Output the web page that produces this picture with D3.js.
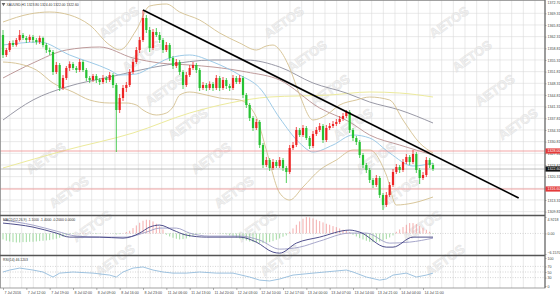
<!DOCTYPE html>
<html>
<head>
<meta charset="utf-8">
<script src="https://cdn.jsdelivr.net/npm/d3@7"></script>
<style>
body { margin: 0; background: #fff; }
svg { display: block; font-family: "Liberation Sans", Arial, sans-serif; }
</style>
</head>
<body>
<svg id="chart"></svg>
<script>
// XAUUSD H1 candles
var open = [1362.8,1356.8,1358.3,1360.4,1359.8,1361.3,1362.8,1361.9,1361.3,1362.2,
  1361.3,1360.7,1361.9,1359.8,1358.3,1357.7,1351.7,1353.8,1346.9,1349.9,
  1352.9,1354.1,1352.9,1352.3,1354.7,1352.3,1349.9,1349.3,1350.5,1349.3,
  1348.7,1349.9,1349.3,1350.8,1347.8,1340.3,1343.9,1346.9,1347.8,1351.7,
  1354.7,1358.3,1361.3,1367.9,1364.3,1358.9,1363.7,1362.8,1361.3,1358.3,
  1359.8,1355.9,1353.5,1354.7,1351.7,1347.8,1350.8,1352.9,1353.8,1352.3,
  1346.9,1347.8,1346.9,1348.1,1346.9,1349.9,1346.9,1349.3,1347.5,1346.9,
  1349.9,1348.7,1349.9,1344.8,1341.8,1337.9,1334.9,1336.7,1329.8,1323.8,
  1325.3,1322.9,1324.7,1323.5,1325.3,1322.9,1321.7,1328.9,1329.8,1334.3,
  1332.8,1334.9,1331.9,1329.5,1333.1,1334.3,1335.5,1331.3,1334.9,1335.5,
  1336.1,1336.7,1337.6,1338.5,1339.7,1334.3,1331.9,1330.7,1326.8,1323.8,
  1322.3,1319.3,1317.8,1319.9,1314.8,1311.8,1314.8,1317.8,1321.7,1323.2,
  1322.3,1324.7,1326.2,1324.7,1327.1,1322.3,1319.9,1320.8,1325.3,1323.8];
var high = [1364.3,1358.9,1361.0,1361.2,1361.9,1364.3,1363.4,1362.5,1362.9,1362.8,
  1361.9,1362.6,1362.3,1360.4,1359.0,1358.3,1354.7,1354.4,1350.8,1353.5,
  1354.9,1354.7,1353.5,1355.6,1355.3,1352.9,1350.5,1351.1,1351.1,1349.9,
  1350.8,1350.5,1351.7,1351.4,1348.4,1345.1,1347.8,1348.7,1352.6,1355.6,
  1359.2,1362.2,1370.3,1368.8,1365.2,1364.6,1364.9,1363.7,1361.9,1360.7,
  1360.4,1356.5,1355.6,1355.3,1352.3,1351.7,1353.8,1354.7,1354.4,1352.9,
  1348.7,1348.4,1348.9,1348.7,1350.8,1350.5,1350.2,1349.9,1348.1,1350.8,
  1350.5,1350.8,1350.5,1345.4,1342.4,1338.5,1337.6,1337.3,1330.4,1326.2,
  1325.9,1325.6,1325.3,1326.2,1325.9,1323.5,1329.8,1330.7,1335.2,1334.9,
  1335.8,1335.5,1332.5,1334.0,1335.2,1336.4,1336.1,1335.8,1336.4,1337.0,
  1337.6,1338.5,1339.4,1340.3,1340.3,1334.9,1332.5,1331.3,1327.4,1324.4,
  1322.9,1319.9,1320.8,1320.5,1315.4,1315.7,1318.7,1322.6,1324.1,1323.8,
  1325.6,1327.1,1326.8,1328.3,1327.7,1322.9,1321.7,1326.2,1325.9,1324.4];
var low = [1355.9,1356.2,1357.7,1359.2,1359.3,1360.8,1361.3,1360.4,1360.7,1360.5,
  1359.9,1360.1,1359.1,1357.4,1356.8,1350.8,1351.1,1346.0,1346.3,1349.3,
  1352.0,1352.3,1351.4,1351.7,1351.7,1349.0,1348.4,1348.7,1348.4,1347.8,
  1348.1,1348.4,1348.7,1346.9,1327.7,1339.4,1343.0,1345.7,1347.2,1351.1,
  1354.1,1357.4,1360.7,1363.4,1357.7,1358.3,1362.2,1360.4,1357.4,1357.7,
  1355.0,1352.6,1352.9,1350.8,1346.6,1347.2,1350.2,1352.3,1351.4,1346.0,
  1346.3,1346.0,1346.3,1346.0,1346.3,1346.0,1346.3,1346.6,1346.0,1346.3,
  1348.1,1348.1,1343.9,1340.9,1337.0,1334.0,1334.3,1328.9,1322.9,1323.2,
  1322.0,1322.3,1322.9,1322.9,1322.0,1318.4,1321.1,1328.3,1329.2,1332.2,
  1332.2,1331.3,1328.6,1328.9,1332.5,1333.7,1330.4,1330.7,1334.3,1334.9,
  1335.5,1336.1,1337.0,1337.9,1333.4,1331.0,1329.8,1325.9,1322.9,1321.4,
  1318.4,1316.9,1317.2,1313.9,1310.3,1311.2,1314.2,1317.2,1321.1,1321.4,
  1321.7,1324.1,1323.8,1324.1,1321.4,1318.1,1319.3,1320.2,1322.9,1322.0];
var close = [1356.8,1358.3,1360.4,1359.8,1361.3,1362.8,1361.9,1361.3,1362.2,1361.3,
  1360.7,1361.9,1359.8,1358.3,1357.7,1351.7,1353.8,1346.9,1349.9,1352.9,
  1354.1,1352.9,1352.3,1354.7,1352.3,1349.9,1349.3,1350.5,1349.3,1348.7,
  1349.9,1349.3,1350.8,1347.8,1340.3,1343.9,1346.9,1347.8,1351.7,1354.7,
  1358.3,1361.3,1367.9,1364.3,1358.9,1363.7,1362.8,1361.3,1358.3,1359.8,
  1355.9,1353.5,1354.7,1351.7,1347.8,1350.8,1352.9,1353.8,1352.3,1346.9,
  1347.8,1346.9,1348.1,1346.9,1349.9,1346.9,1349.3,1347.5,1346.9,1349.9,
  1348.7,1349.9,1344.8,1341.8,1337.9,1334.9,1336.7,1329.8,1323.8,1325.3,
  1322.9,1324.7,1323.5,1325.3,1322.9,1321.7,1328.9,1329.8,1334.3,1332.8,
  1334.9,1331.9,1329.5,1333.1,1334.3,1335.5,1331.3,1334.9,1335.5,1336.1,
  1336.7,1337.6,1338.5,1339.7,1334.3,1331.9,1330.7,1326.8,1323.8,1322.3,
  1319.3,1317.8,1319.9,1314.8,1311.8,1314.8,1317.8,1321.7,1323.2,1322.3,
  1324.7,1326.2,1324.7,1327.1,1322.3,1319.9,1320.8,1325.3,1323.8,1322.6];

// moving averages and bands, sampled at candle indices
var maFastIdx = [0,11,20,32,35,40,44,50,56,63,71,77,83,89,93,99,105,110,116,123,129];
var maFast = [1359.8,1360.7,1356.8,1352.3,1350.8,1351.1,1352.9,1355.9,1356.8,1354.7,1350.8,1346.9,1337.9,1330.4,1327.7,1329.8,1332.8,1331.9,1327.4,1323.5,1324.4];
var maMidIdx = [0,9,19,29,39,47,56,63,73,83,95,104,110,119,129];
var maMid = [1349.9,1354.4,1358.3,1359.2,1355.9,1354.4,1353.8,1353.2,1351.7,1349.3,1340.9,1336.7,1332.8,1329.8,1326.8];
var maSlowIdx = [0,9,19,32,49,63,73,83,93,103,110,119,129];
var maSlow = [1337.3,1343.3,1347.2,1350.2,1353.8,1355.3,1355.3,1353.2,1348.4,1345.4,1342.7,1340.3,1336.4];
var maLongIdx = [0,19,39,56,68,80,98,110,119,129];
var maLong = [1322.9,1328.3,1333.4,1339.4,1342.4,1344.2,1344.8,1345.7,1345.4,1344.2];
var bbUpIdx = [0,8,14,20,26,32,35,40,44,49,53,59,65,71,76,79,81,83,86,89,93,97,101,106,110,116,120,125,129];
var bbUp = [1366.7,1369.1,1369.7,1368.8,1365.8,1359.8,1358.3,1364.3,1371.5,1372.1,1369.7,1367.3,1363.4,1360.4,1358.3,1359.5,1359.8,1358.3,1352.9,1344.8,1337.3,1338.8,1341.8,1343.3,1344.2,1343.3,1337.3,1330.4,1327.4];
var bbLowIdx = [0,5,10,15,21,26,32,37,40,42,46,49,51,53,56,61,65,71,76,79,83,86,90,95,100,105,110,115,118,123,129];
var bbLow = [1354.7,1354.1,1352.3,1348.4,1345.7,1343.3,1342.4,1342.4,1341.8,1340.3,1338.8,1339.4,1341.2,1344.8,1345.7,1344.8,1343.9,1343.3,1338.2,1328.3,1315.4,1313.3,1317.2,1322.3,1325.3,1328.3,1328.3,1320.8,1311.8,1312.4,1314.2];

// drawn objects
var trendIdx = [42, 154.7];
var trendVal = [1370.3, 1313.9];
var levels = [1328.0, 1316.6];

// MACD
var macdIdx = [0,9,16,20,29,36,41,44,47,51,55,61,71,76,81,83,88,95,104,107,115,117,123,129];
var macdMain = [3.1,1.9,0.1,-1.1,-1.1,-1.4,0.1,1.9,2.5,1.0,-0.5,-1.1,-1.1,-2.6,-5.6,-5.9,-2.9,-1.1,1.0,0.4,-4.1,-4.1,-1.1,-1.1];
var signalIdx = [0,9,16,22,29,37,43,47,52,56,62,71,77,83,89,95,104,109,116,122,129];
var macdSignal = [4.0,2.5,0.7,-0.8,-1.1,-1.1,0.4,1.6,1.6,0.1,-0.8,-0.8,-2.0,-4.7,-4.1,-2.3,0.1,0.1,-2.9,-2.6,-1.4];
var macdHist = [-1.8,-2.2,-2.4,-2.6,-2.7,-2.7,-2.6,-2.6,-2.5,-2.5,-2.4,-2.3,-2.2,-2.1,-2.0,-1.8,-1.6,-1.3,-1.0,-0.6,
  -0.3,-0.2,0,0.1,0.2,0.1,0,-0.1,-0.2,-0.1,0,0.1,0,-0.1,-0.3,-0.2,0.1,0.4,
  0.8,1.6,2.4,3.2,3.8,4.1,4.0,3.6,2.9,2.1,1.2,
  -0.4,-0.9,-1.3,-1.6,-1.8,-1.7,-1.5,-1.1,-0.7,-0.4,
  -0.2,-0.1,0,0.1,0.1,0,-0.1,-0.2,-0.3,
  -0.6,-0.9,-1.2,-1.5,-1.8,-2.1,-2.4,-2.6,-2.8,-2.9,-2.9,-2.8,-2.6,-2.3,-1.9,-1.5,-1.0,-0.6,
  0.5,1.5,2.6,3.6,4.4,4.9,4.8,4.5,4.1,3.7,3.3,2.9,2.6,2.2,1.9,1.5,1.1,0.8,0.4,
  -0.4,-0.9,-1.4,-1.8,-2.2,-2.5,-2.6,-2.6,-2.4,-2.1,-1.7,-1.2,-0.6,
  0.5,1.2,1.9,2.6,3.1,3.1,2.8,2.3,1.7,1.1,0.5,
  -0.2];

// RSI
var rsiIdx = [0,2,5,9,12,15,17,21,27,32,34,36,39,42,45,48,51,55,59,64,69,74,77,80,83,87,93,103,105,109,113,115,117,121,124,127,129];
var rsi = [50,57,64,57,50,32,46,50,46,39,32,50,64,68,57,50,46,46,50,46,46,32,21,18,25,39,46,57,50,32,21,25,39,46,32,39,46];

// axes
var priceTicks = [1369.31,1365.81,1362.31,1358.81,1355.31,1351.81,1348.31,1344.81,1341.31,1337.81,1334.31,1330.81,1327.31,1323.81,1320.31,1316.81,1313.31,1309.81];
var macdTicks = [4.9218, 0, -6.157];
var rsiTicks = [100, 70, 50, 30, 0];
var timeIdx = [0,7,14,21,28,35,42,49,56,63,70,77,84,91,98,105,112,119,126];
var timeLabels = ["7 Jul 2016","7 Jul 12:00","7 Jul 19:00","8 Jul 02:00","8 Jul 09:00","8 Jul 16:00","8 Jul 23:00",
  "11 Jul 06:00","11 Jul 13:00","11 Jul 20:00","12 Jul 03:00","12 Jul 10:00","12 Jul 17:00","13 Jul 00:00",
  "13 Jul 07:00","13 Jul 14:00","13 Jul 21:00","14 Jul 04:00","14 Jul 11:00"];

var width = 560, height = 298, plotR = 545;
var mainTop = 0, mainBot = 215, macdTop = 216, macdBot = 255, rsiTop = 256, rsiBot = 288;

var svg = d3.select("#chart").attr("width", width).attr("height", height);

var x = d3.scaleLinear().domain([0, 129]).range([3, 433]);
var yMain = d3.scaleLinear().domain([1309.1, 1372.7]).range([214, 2]);
var yMacd = d3.scaleLinear().domain([-6.157, 4.9218]).range([254, 217]);
var yRsi = d3.scaleLinear().domain([0, 100]).range([286, 258]);

var fmt2 = d3.format(".2f");

// clip paths
var defs = svg.append("defs");
[["clipMain", mainTop, mainBot], ["clipMacd", macdTop, macdBot], ["clipRsi", rsiTop, rsiBot]].forEach(function(c) {
  defs.append("clipPath").attr("id", c[0]).append("rect")
    .attr("x", 0).attr("y", c[1]).attr("width", plotR).attr("height", c[2] - c[1]);
});

// grid
var grid = svg.append("g").attr("stroke", "#dcdcdc").attr("stroke-width", 0.6);
var vIdx = d3.range(2.1, x.invert(plotR), 3.5);
[[mainTop, mainBot], [macdTop, macdBot], [rsiTop, rsiBot]].forEach(function(p) {
  grid.selectAll(null).data(vIdx).join("line")
    .attr("x1", function(d) { return x(d); }).attr("x2", function(d) { return x(d); })
    .attr("y1", p[0]).attr("y2", p[1]);
});
grid.selectAll(null).data(priceTicks).join("line")
  .attr("x1", 0).attr("x2", plotR)
  .attr("y1", function(d) { return yMain(d); }).attr("y2", function(d) { return yMain(d); });
grid.selectAll(null).data([70, 50, 30]).join("line")
  .attr("x1", 0).attr("x2", plotR).attr("stroke", "#b8b8b8").attr("stroke-dasharray", "1,1.5")
  .attr("y1", function(d) { return yRsi(d); }).attr("y2", function(d) { return yRsi(d); });
grid.append("line").attr("x1", 0).attr("x2", plotR)
  .attr("y1", yMacd(0)).attr("y2", yMacd(0))
  .attr("stroke", "#b8b8b8").attr("stroke-dasharray", "1,1.5");

// watermark, kept fully inside the picture
var marks = [];
[-46, 119, 284, 449].forEach(function(cx) {
  d3.range(-2, 9).forEach(function(r) {
    marks.push([cx + 23 * r, 22 + 34 * r]);
  });
});
svg.append("g").selectAll("text")
  .data(marks.filter(function(m) { return m[0] > 24 && m[0] < 536 && m[1] > 19 && m[1] < 280; }))
  .join("text")
  .attr("transform", function(d) { return "translate(" + d[0] + "," + d[1] + ") rotate(-35)"; })
  .attr("text-anchor", "middle").attr("dy", "0.35em")
  .attr("font-size", 13).attr("font-weight", "bold")
  .attr("fill", "#ececec").attr("stroke", "#d6d6d6").attr("stroke-width", 0.4)
  .attr("opacity", 0.75)
  .text("AETOS");

// main panel series
var main = svg.append("g").attr("clip-path", "url(#clipMain)");

function drawLine(g, idx, vals, ys, color, w) {
  var line = d3.line()
    .x(function(d, i) { return x(idx[i]); })
    .y(function(d) { return ys(d); })
    .curve(d3.curveMonotoneX);
  g.append("path").datum(vals)
    .attr("fill", "none").attr("stroke", color).attr("stroke-width", w)
    .attr("d", line);
}

drawLine(main, maLongIdx, maLong, yMain, "#ecea9c", 1);
drawLine(main, maSlowIdx, maSlow, yMain, "#8d8d9c", 0.9);
drawLine(main, maMidIdx, maMid, yMain, "#b89090", 0.9);
drawLine(main, bbUpIdx, bbUp, yMain, "#d4c08e", 0.9);
drawLine(main, bbLowIdx, bbLow, yMain, "#d4c08e", 0.9);
drawLine(main, maFastIdx, maFast, yMain, "#92c4e4", 0.9);

// horizontal levels and bid line
main.selectAll(".lvl").data(levels).join("line").attr("class", "lvl")
  .attr("x1", 0).attr("x2", plotR)
  .attr("y1", function(d) { return yMain(d); }).attr("y2", function(d) { return yMain(d); })
  .attr("stroke", "#f09090").attr("stroke-width", 0.8);
main.append("line")
  .attr("x1", 0).attr("x2", plotR)
  .attr("y1", yMain(close[close.length - 1])).attr("y2", yMain(close[close.length - 1]))
  .attr("stroke", "#a0a0a0").attr("stroke-width", 0.7);

// candles
var idx = d3.range(close.length);
var upCol = "#ee2424", dnCol = "#26c232";
var candles = main.append("g");
candles.selectAll("line").data(idx).join("line")
  .attr("x1", function(i) { return x(i); }).attr("x2", function(i) { return x(i); })
  .attr("y1", function(i) { return yMain(high[i]); }).attr("y2", function(i) { return yMain(low[i]); })
  .attr("stroke", function(i) { return close[i] >= open[i] ? upCol : dnCol; })
  .attr("stroke-width", 0.8);
candles.selectAll("rect").data(idx).join("rect")
  .attr("x", function(i) { return x(i) - 1.1; })
  .attr("width", 2.2)
  .attr("y", function(i) { return yMain(Math.max(open[i], close[i])); })
  .attr("height", function(i) { return Math.max(0.8, Math.abs(yMain(open[i]) - yMain(close[i]))); })
  .attr("fill", function(i) { return close[i] >= open[i] ? upCol : dnCol; });

// trend line
main.append("line")
  .attr("x1", x(trendIdx[0])).attr("y1", yMain(trendVal[0]))
  .attr("x2", x(trendIdx[1])).attr("y2", yMain(trendVal[1]))
  .attr("stroke", "#000").attr("stroke-width", 1.7);

// MACD panel
var macd = svg.append("g").attr("clip-path", "url(#clipMacd)");
macd.selectAll("line").data(idx).join("line")
  .attr("x1", function(i) { return x(i); }).attr("x2", function(i) { return x(i); })
  .attr("y1", yMacd(0)).attr("y2", function(i) { return yMacd(macdHist[i]); })
  .attr("stroke", function(i) { return macdHist[i] >= 0 ? "#f08a8a" : "#7ccc7c"; })
  .attr("stroke-width", 0.7);
drawLine(macd, signalIdx, macdSignal, yMacd, "#9c9cc4", 0.9);
drawLine(macd, macdIdx, macdMain, yMacd, "#3c3c80", 0.9);

// RSI panel
var rsiG = svg.append("g").attr("clip-path", "url(#clipRsi)");
rsiG.append("path").datum(rsi)
  .attr("fill", "none").attr("stroke", "#86b4d8").attr("stroke-width", 0.8)
  .attr("d", d3.line().x(function(d, i) { return x(rsiIdx[i]); }).y(function(d) { return yRsi(d); }));

// frames
var frame = svg.append("g").attr("fill", "none");
frame.append("rect").attr("x", 0.5).attr("y", 0.5).attr("width", plotR - 0.5).attr("height", rsiBot - 0.5)
  .attr("stroke", "#8a8a8a").attr("stroke-width", 0.8);
frame.selectAll(".sep").data([mainBot + 0.5, macdBot + 0.5]).join("line").attr("class", "sep")
  .attr("x1", 0).attr("x2", plotR).attr("y1", function(d) { return d; }).attr("y2", function(d) { return d; })
  .attr("stroke", "#555").attr("stroke-width", 1.4);
frame.append("line").attr("x1", plotR).attr("x2", plotR).attr("y1", 0).attr("y2", rsiBot)
  .attr("stroke", "#666").attr("stroke-width", 1);

// right axes
function styleAxis(g) {
  g.select(".domain").remove();
  g.selectAll(".tick line").attr("stroke", "#666").attr("stroke-width", 0.5);
  g.selectAll(".tick text").attr("font-size", 3.6).attr("fill", "#444")
    .attr("font-family", "Liberation Sans, Arial, sans-serif").attr("x", 2.5);
}
svg.append("g").attr("transform", "translate(" + plotR + ",0)")
  .call(d3.axisRight(yMain).tickValues(priceTicks).tickSize(1.5).tickFormat(fmt2))
  .call(styleAxis);
svg.append("g").attr("transform", "translate(" + plotR + ",0)")
  .call(d3.axisRight(yMacd).tickValues(macdTicks).tickSize(1.5)
    .tickFormat(function(d) { return d === 0 ? "0.00" : d3.format(".4f")(d); }))
  .call(styleAxis)
  .call(function(g) {
    g.selectAll(".tick text").attr("dy", function(d) { return d > 1 ? "0.9em" : d < -1 ? "-0.2em" : "0.32em"; });
  });
svg.append("g").attr("transform", "translate(" + plotR + ",0)")
  .call(d3.axisRight(yRsi).tickValues(rsiTicks).tickSize(1.5))
  .call(styleAxis);

// top price label
svg.append("text").attr("x", plotR + 2.5).attr("y", 4.2)
  .attr("font-size", 3.6).attr("fill", "#444").text(fmt2(yMain.domain()[1]));

// price tags
function tag(v, bg) {
  var yy = yMain(v);
  svg.append("rect").attr("x", plotR + 0.5).attr("y", yy - 2.6).attr("width", 14.5).attr("height", 5.2).attr("fill", bg);
  svg.append("text").attr("x", plotR + 2.5).attr("y", yy).attr("dy", "0.35em")
    .attr("font-size", 3.6).attr("fill", "#fff").text(fmt2(v));
}
levels.forEach(function(v) { tag(v, "#e33a3a"); });
tag(close[close.length - 1], "#111");

// time axis
var xAxis = svg.append("g").attr("transform", "translate(0," + rsiBot + ")")
  .call(d3.axisBottom(x).tickValues(timeIdx).tickSize(2)
    .tickFormat(function(d, i) { return timeLabels[i]; }));
xAxis.select(".domain").remove();
xAxis.selectAll(".tick line").attr("stroke", "#666").attr("stroke-width", 0.5);
xAxis.selectAll(".tick text").attr("font-size", 3.6).attr("fill", "#444")
  .attr("text-anchor", "start").attr("x", 1).attr("y", 3.2)
  .attr("font-family", "Liberation Sans, Arial, sans-serif");

// panel headers
var last = close.length - 1;
svg.append("path").attr("d", d3.symbol(d3.symbolTriangle, 6)()).attr("transform", "translate(3.5,4.2) rotate(180)")
  .attr("fill", "#666");
svg.append("text").attr("x", 6.5).attr("y", 5.6).attr("font-size", 3.4).attr("fill", "#333")
  .text("XAUUSD,H1  " + fmt2(open[last]) + " " + fmt2(high[last]) + " " + fmt2(low[last]) + " " + fmt2(close[last]));
svg.append("text").attr("x", 3).attr("y", macdTop + 5).attr("font-size", 3.4).attr("fill", "#333")
  .text("MACD(12,26,9) -1.1000 -1.4000 -0.2000 0.0000");
svg.append("text").attr("x", 3).attr("y", rsiTop + 5).attr("font-size", 3.4).attr("fill", "#333")
  .text("RSI(14) 46.1203");
</script>
</body>
</html>
